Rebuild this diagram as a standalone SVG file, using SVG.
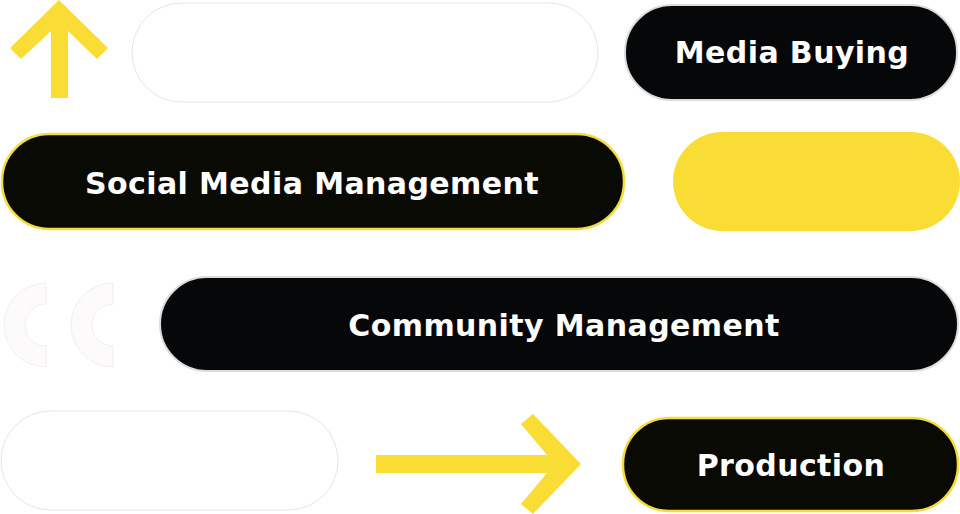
<svg xmlns="http://www.w3.org/2000/svg" width="960" height="514" viewBox="0 0 960 514">
<style>
  .lbl { font-family: "DejaVu Sans", Inter, "Liberation Sans", sans-serif; font-weight: 700; font-size: 30px; letter-spacing: 0.4px; fill: #ffffff; text-anchor: middle; }
  .blank { fill: #ffffff; stroke: #e6e6e6; stroke-width: 1; }
  .dark { fill: #060708; stroke: #dcdcdc; stroke-width: 2; }
  .darky { fill: #0a0a05; stroke: #f6dc3a; stroke-width: 2.5; }
  .yel { fill: #f9dc34; }
  .ring { fill: #fcfafa; stroke: #ececec; stroke-width: 0.8; }
</style>
<rect width="960" height="514" fill="#ffffff"/>
<g id="arrow-up">
  <polygon class="yel" points="59,0 108,48 97,59 68,31 68,98 51,98 51,31 21,59 10,48"/>
</g>
<g id="blank-top">
  <rect class="blank" x="132" y="3" width="466" height="99" rx="49.5"/>
</g>
<g id="media-buying">
  <rect class="dark" x="625" y="5" width="332" height="95" rx="47"/>
  <text class="lbl" x="792" y="63">Media Buying</text>
</g>
<g id="social-media-management">
  <rect class="darky" x="2" y="134" width="622" height="95" rx="47"/>
  <text class="lbl" x="312" y="194">Social Media Management</text>
</g>
<g id="yellow-pill">
  <rect class="yel" x="673" y="132" width="287" height="99" rx="49.5"/>
</g>
<g id="rings">
  <path class="ring" d="M46,283 A42,42 0 0 0 46,367 L46,346 A21,21 0 0 1 46,304 Z"/>
  <path class="ring" d="M113,283 A42,42 0 0 0 113,367 L113,346 A21,21 0 0 1 113,304 Z"/>
</g>
<g id="community-management">
  <rect class="dark" x="160" y="277" width="798" height="94" rx="47"/>
  <text class="lbl" x="564" y="336">Community Management</text>
</g>
<g id="blank-bottom">
  <rect class="blank" x="1" y="411" width="337" height="99" rx="49.5"/>
</g>
<g id="connectors">
  <polygon class="yel" points="376,455 547,455 521,424 533,414 581,464 533,514 521,504 547,473 376,473"/>
</g>
<g id="production">
  <rect class="darky" x="623" y="418" width="335" height="93" rx="46"/>
  <text class="lbl" x="791" y="476">Production</text>
</g>
</svg>
